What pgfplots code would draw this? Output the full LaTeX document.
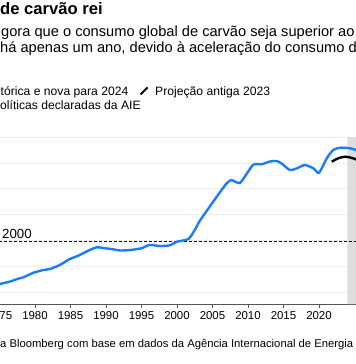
\documentclass[border=0pt]{standalone}
\usepackage{fontspec}
\setmainfont{Liberation Sans}
\usepackage{pgfplots}
\pgfplotsset{compat=1.18}
\definecolor{bbblue}{HTML}{1A7CFA}
\definecolor{shade}{HTML}{DDDDDD}
\definecolor{gridc}{HTML}{EEEEEE}
\definecolor{axc}{HTML}{555555}
\begin{document}
\begin{tikzpicture}[x=1bp,y=1bp]
\useasboundingbox (0,0) rectangle (356,364);
\clip (0,0) rectangle (356,364);
\begin{axis}[
  at={(-36bp,60bp)}, anchor=south west,
  scale only axis, width=404.7bp, height=166.8bp,
  xmin=1970, xmax=2027, ymin=1535, ymax=8000,
  axis x line*=bottom, axis y line*=left,
  x axis line style={axc, line width=0.8pt},
  y axis line style={draw=none},
  xtick={1975,1980,...,2020},
  xticklabel style={font=\fontsize{11.5}{12}\selectfont, text=black},
  x tick style={axc, line width=0.6pt},
  y tick style={draw=none},
  yticklabels={},
  tick align=outside, major tick length=4bp,
  /pgf/number format/1000 sep={},
  /pgf/number format/assume math mode=true,
  ytick={2000,3000,...,8000},
  ymajorgrids, grid style={gridc, line width=0.7pt},
  clip=false,
]
\addplot[draw=none, fill=shade] coordinates {(2024,1535) (2027,1535) (2027,8000) (2024,8000)} \closedcycle;
\addplot[black, line width=0.7pt, dash pattern=on 3bp off 2bp] coordinates {(1970,3965) (2027,3965)};
\addplot[bbblue, line width=2.4pt, smooth, tension=0.4] coordinates {
(1973.5,2230) (1975,2310) (1976.4,2399) (1977.8,2531) (1978.3,2562) (1979.8,2748) (1981.2,2853) (1982.1,2891) (1983.5,3047) (1984.9,3279) (1986,3395) (1987.7,3628) (1988.7,3733) (1989.6,3705) (1991,3655) (1992,3609) (1993.4,3628) (1995,3694) (1996.1,3822) (1997.6,3783) (1999,3810) (2000,3950) (2001.6,4054) (2002.5,4403) (2003.2,4752) (2004.6,5306) (2005.6,5694) (2007,6213) (2007.7,6341) (2008.9,6236) (2010.7,6922) (2011.9,6950) (2013.1,7058) (2014,7078) (2014.7,6988) (2015.9,6729) (2016.9,6795) (2018,6922) (2019.2,6795) (2020,6624) (2021.1,7182) (2022,7504) (2023,7593) (2024.4,7570) (2025.2,7504) (2026,7400)
};
\addplot[black, line width=2.4pt, smooth, tension=0.5] coordinates {
(2021.8,7050) (2022.7,7182) (2023.7,7244) (2024.8,7182) (2026,7050)
};
\end{axis}
\node[anchor=base west, inner sep=0pt, font=\fontsize{16.7}{18}\selectfont\bfseries] at (0,349.5) {de carvão rei};
\node[anchor=base west, inner sep=0pt, font=\fontsize{14.7}{16}\selectfont] at (1,327.5) {gora que o consumo global de carvão seja superior ao};
\node[anchor=base west, inner sep=0pt, font=\fontsize{14.7}{16}\selectfont] at (0,312) {há apenas um ano, devido à aceleração do consumo de};
\node[anchor=base west, inner sep=0pt, font=\fontsize{12.2}{13}\selectfont] at (0.5,269) {tórica e nova para 2024};
\draw[black, line width=1.8pt] (140.5,269.5) -- (147.5,276.5);
\node[anchor=base west, inner sep=0pt, font=\fontsize{12.2}{13}\selectfont] at (155,269) {Projeção antiga 2023};
\node[anchor=base west, inner sep=0pt, font=\fontsize{12.2}{13}\selectfont] at (0,255) {olíticas declaradas da AIE};
\node[anchor=base west, inner sep=0pt, font=\fontsize{13.3}{14}\selectfont] at (2,126) {2000};
\node[anchor=base west, inner sep=0pt, font=\fontsize{11.3}{12}\selectfont] at (0,17) {a Bloomberg com base em dados da Agência Internacional de Energia};
\end{tikzpicture}
\end{document}
